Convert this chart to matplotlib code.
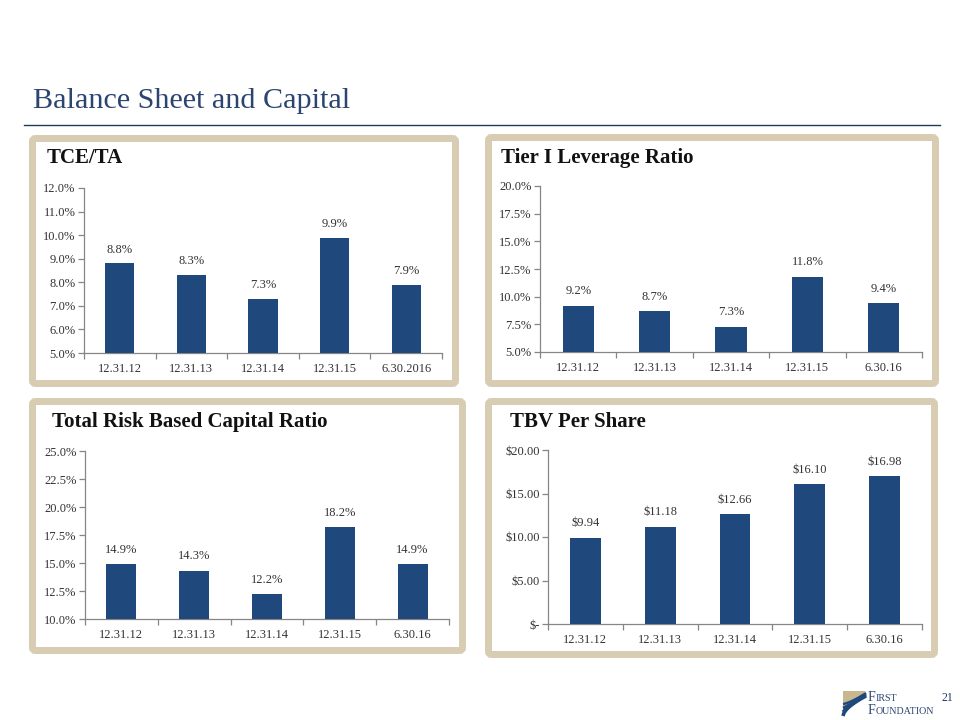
import matplotlib
matplotlib.use("Agg")
import matplotlib.pyplot as plt
from matplotlib.patches import FancyBboxPatch, Polygon
from matplotlib.ticker import FixedLocator
import numpy as np

plt.rcParams['font.family'] = ['Liberation Serif', 'DejaVu Serif']

# ---------------- data ----------------
categories_tce = ["12.31.12", "12.31.13", "12.31.14", "12.31.15", "6.30.2016"]
categories = ["12.31.12", "12.31.13", "12.31.14", "12.31.15", "6.30.16"]
tce_ta = [8.8, 8.3, 7.3, 9.9, 7.9]
tier1 = [9.2, 8.7, 7.3, 11.8, 9.4]
total_rbc = [14.9, 14.3, 12.2, 18.2, 14.9]
tbv = [9.94, 11.18, 12.66, 16.10, 16.98]

tce_ticks = [5.0, 6.0, 7.0, 8.0, 9.0, 10.0, 11.0, 12.0]
tier1_ticks = [5.0, 7.5, 10.0, 12.5, 15.0, 17.5, 20.0]
rbc_ticks = [10.0, 12.5, 15.0, 17.5, 20.0, 22.5, 25.0]
tbv_ticks = [0, 5, 10, 15, 20]
tbv_tick_labels = ["$-", "$5.00", "$10.00", "$15.00", "$20.00"]

titles = ["TCE/TA", "Tier I Leverage Ratio", "Total Risk Based Capital Ratio", "TBV Per Share"]

NAVY = "#1F497D"
TITLE_BLUE = "#2B4470"
BEIGE = "#D8CCB3"
TEXT = "#333333"
SPINE = "#868686"
FS = 9.0

W, H = 960, 720
fig = plt.figure(figsize=(9.6, 7.2), dpi=100)
fig.patch.set_facecolor("white")

bg = fig.add_axes([0, 0, 1, 1], zorder=0)
bg.set_xlim(0, W)
bg.set_ylim(H, 0)
bg.axis("off")

# header
bg.text(33, 101, "Balance Sheet and Capital", fontsize=21.7, color=TITLE_BLUE,
        ha="left", va="center")
bg.plot([24, 940], [125, 125], color="#1F3A60", lw=1.0)

def frame(x0, y0, x1, y1):
    lw_px = 7
    p = FancyBboxPatch((x0 + lw_px / 2, y0 + lw_px / 2),
                       (x1 - x0) - lw_px, (y1 - y0) - lw_px,
                       boxstyle="round,pad=0,rounding_size=3",
                       facecolor="white", edgecolor=BEIGE,
                       lw=lw_px * 0.72, zorder=1)
    bg.add_patch(p)

frames = [(29, 135, 459, 387), (485, 134, 939, 387),
          (29, 398, 466, 654), (485, 398, 938, 658)]
for f in frames:
    frame(*f)

title_pos = [(47, 158), (501, 158), (52, 422), (510, 422)]
for (tx, ty), t in zip(title_pos, titles):
    bg.text(tx, ty, t, fontsize=15, fontweight="bold", color="#111111",
            ha="left", va="center")

# axes rects in pixels: left, top, right, bottom
axes_px = [(84, 188, 442, 353), (540, 186, 922, 352),
           (85, 451, 449, 619), (548, 450, 922, 624)]

def make_ax(px):
    l, t, r, b = px
    return fig.add_axes([l / W, 1 - b / H, (r - l) / W, (b - t) / H], zorder=2)

def style_bar_ax(ax, cats, vals, base, ticks, ticklabels, ylim, labels, offset):
    x = np.arange(len(cats))
    ax.bar(x, np.array(vals) - base, bottom=base, width=0.41, color=NAVY, zorder=3)
    ax.set_ylim(*ylim)
    ax.set_xlim(-0.5, len(cats) - 0.5)
    ax.set_facecolor("none")
    for s in ["top", "right"]:
        ax.spines[s].set_visible(False)
    for s in ["left", "bottom"]:
        ax.spines[s].set_color(SPINE)
        ax.spines[s].set_linewidth(0.9)
    ax.set_yticks(ticks)
    ax.set_yticklabels(ticklabels)
    ax.set_xticks(x)
    ax.set_xticklabels(cats)
    ax.xaxis.set_minor_locator(FixedLocator(np.arange(-0.5, len(cats), 1.0)))
    ax.tick_params(axis="x", which="major", length=0, pad=7, labelsize=FS,
                   labelcolor=TEXT)
    ax.tick_params(axis="x", which="minor", length=4, direction="out",
                   color=SPINE, width=0.9)
    ax.tick_params(axis="y", which="major", length=4, direction="out",
                   color=SPINE, width=0.9, labelsize=FS, labelcolor=TEXT, pad=2)
    for xi, v, lab in zip(x, vals, labels):
        ax.text(xi, v + offset, lab, ha="center", va="bottom",
                fontsize=FS, color=TEXT, zorder=4)

pct = lambda v: f"{v:.1f}%"

ax1 = make_ax(axes_px[0])
style_bar_ax(ax1, categories_tce, tce_ta, 5.0, tce_ticks, [pct(t) for t in tce_ticks],
             (5.0, 12.0), [pct(v) for v in tce_ta], 0.33)

ax2 = make_ax(axes_px[1])
style_bar_ax(ax2, categories, tier1, 5.0, tier1_ticks, [pct(t) for t in tier1_ticks],
             (5.0, 20.0), [pct(v) for v in tier1], 0.75)

ax3 = make_ax(axes_px[2])
style_bar_ax(ax3, categories, total_rbc, 10.0, rbc_ticks, [pct(t) for t in rbc_ticks],
             (10.0, 25.0), [pct(v) for v in total_rbc], 0.75)

ax4 = make_ax(axes_px[3])
style_bar_ax(ax4, categories, tbv, 0.0, tbv_ticks, tbv_tick_labels,
             (0, 20), [f"${v:.2f}" for v in tbv], 0.95)

# logo
bg.add_patch(Polygon([[843, 691], [866, 691], [843, 712]], closed=True,
                     facecolor="#C9B78F", edgecolor="none", zorder=2))
tt = np.linspace(0, 1, 30)
for k, lw in zip(range(4), [2.6, 2.3, 2.0, 1.7]):
    xs = 843 + 23 * tt
    ys = 716 - 4 * k - (20 - 3 * k) * tt ** (0.6 + 0.25 * k)
    bg.plot(xs, ys, color=NAVY, lw=lw, solid_capstyle="butt", zorder=3)
bg.text(868, 701, "F", fontsize=10, color=TITLE_BLUE, ha="left", va="baseline")
bg.text(876, 701, "IRST", fontsize=7.2, color=TITLE_BLUE, ha="left", va="baseline")
bg.text(868, 714, "F", fontsize=10, color=TITLE_BLUE, ha="left", va="baseline")
bg.text(876, 714, "OUNDATION", fontsize=7.2, color=TITLE_BLUE, ha="left", va="baseline")
bg.text(942, 701, "21", fontsize=8.5, color="#1F3A60", ha="left", va="baseline")

fig.savefig("out.png", dpi=100)
